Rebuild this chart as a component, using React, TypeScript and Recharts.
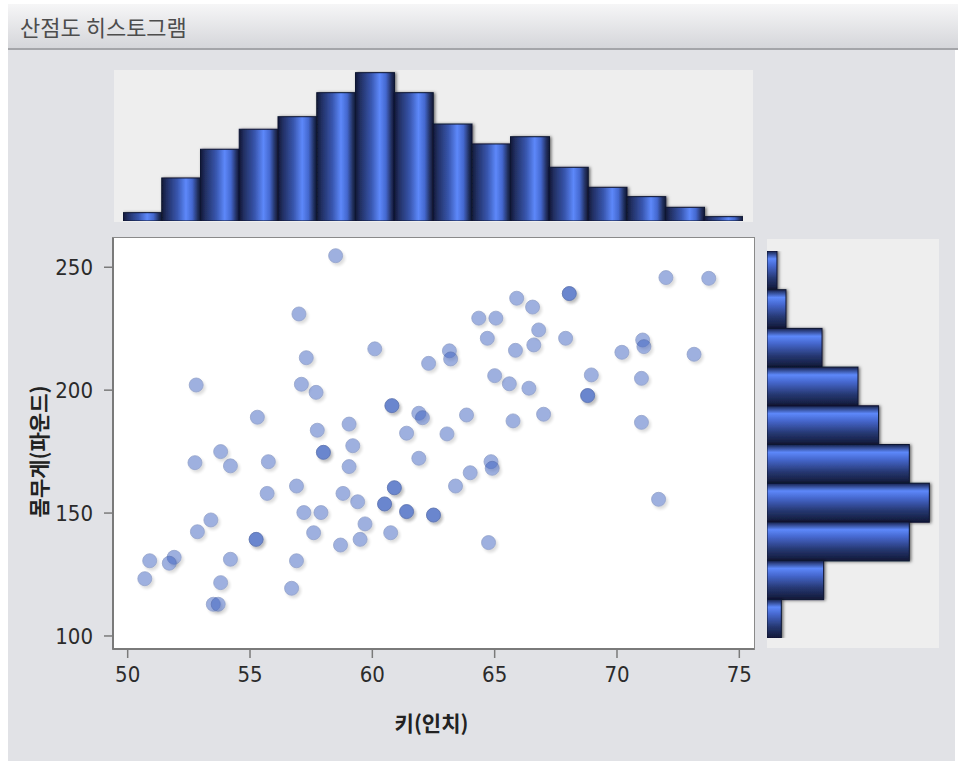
import React from 'react';
import { ScatterChart, Scatter, XAxis, YAxis, BarChart, Bar } from 'recharts';

const TITLE = '산점도 히스토그램';
const X_LABEL = '키(인치)';
const Y_LABEL = '몸무게(파운드)';

const xTicks = [50, 55, 60, 65, 70, 75];
const yTicks = [100, 150, 200, 250];

// scatter points (height in inches, weight in pounds); repeated pairs = overlapping points
const heights = [
  58.5, 57.0, 60.1, 62.3, 57.3, 52.8, 57.1, 57.7, 60.8, 60.8, 61.9, 62.05, 55.3, 59.05, 57.75, 61.4,
  59.2, 53.8, 58.0, 58.0, 52.75, 54.2, 55.75, 59.05, 61.9, 56.9, 55.7, 58.8, 59.4, 60.9, 60.9, 60.5,
  60.5, 61.4, 61.4, 57.2, 57.9, 53.4, 52.85, 55.25, 55.25, 57.6, 59.7, 59.5, 58.7, 60.75, 50.9, 51.9,
  51.7, 54.2, 56.9, 50.7, 53.8, 56.7, 53.5, 53.7, 72.0, 73.75, 68.05, 68.05, 65.9, 66.55, 64.35, 65.05,
  66.8, 64.7, 67.9, 66.6, 65.85, 63.15, 63.2, 71.05, 71.1, 70.2, 73.15, 65.0, 65.6, 66.4, 68.95, 71.0,
  68.8, 68.8, 63.85, 63.05, 65.75, 67.0, 71.0, 64.85, 64.9, 64.0, 63.4, 62.5, 62.5, 64.75, 71.7,
];
const weights = [
  254.7, 231.0, 216.8, 210.9, 213.2, 202.1, 202.4, 199.1, 193.7, 193.7, 190.6, 188.8, 189.0, 186.2, 183.7, 182.5,
  177.4, 175.0, 174.7, 174.7, 170.5, 169.2, 170.9, 168.9, 172.3, 161.0, 158.0, 158.0, 154.6, 160.3, 160.3, 153.7,
  153.7, 150.6, 150.6, 150.2, 150.2, 147.2, 142.4, 139.3, 139.3, 142.0, 145.6, 139.3, 137.0, 142.0, 130.6, 132.0,
  129.6, 131.2, 130.6, 123.3, 121.7, 119.4, 112.9, 112.9, 245.8, 245.5, 239.3, 239.3, 237.4, 233.8, 229.3, 229.3,
  224.5, 221.1, 221.1, 218.4, 216.2, 216.0, 212.7, 220.4, 217.7, 215.4, 214.6, 205.9, 202.6, 200.8, 206.2, 204.8,
  197.8, 197.8, 189.9, 182.2, 187.5, 190.2, 186.9, 170.9, 168.2, 166.4, 161.0, 149.2, 149.2, 138.0, 155.6,
];

// top histogram: height bins (percent)
const heightBins = ['49.8', '51.4', '53.0', '54.6', '56.2', '57.7', '59.3', '60.9', '62.5', '64.1', '65.7', '67.2', '68.8', '70.4', '72.0', '73.6'];
const heightPct = [0.75, 3.87, 6.45, 8.25, 9.38, 11.54, 13.34, 11.54, 8.72, 6.93, 7.58, 4.83, 3.03, 2.19, 1.23, 0.39];

// right histogram: weight bins, top to bottom (percent)
const weightBins = ['256.6', '240.9', '225.2', '209.4', '193.7', '178.0', '162.2', '146.5', '130.8', '115.0'];
const weightPct = [1.24, 2.36, 6.84, 11.31, 13.87, 17.69, 20.18, 17.69, 7.04, 1.78];

const points = heights.map((h, i) => ({ x: h, y: weights[i] }));
const topData = heightBins.map((bin, i) => ({ bin, pct: heightPct[i] }));
const rightData = weightBins.map((bin, i) => ({ bin, pct: weightPct[i] }));

const TICK_FONT = { fill: '#2b2b2b', fontSize: 22, fontFamily: '"DejaVu Sans Condensed", "DejaVu Sans", sans-serif' };
const LABEL_FONT = '"Noto Sans CJK KR", sans-serif';
const AXIS_GREY = '#7a7a7a';

const Defs = () => (
  <svg width={0} height={0} style={{ position: 'absolute' }}>
    <defs>
      <linearGradient id="vGrad" x1="0" y1="0" x2="1" y2="0">
        <stop offset="0" stopColor="#111836" />
        <stop offset="0.12" stopColor="#222f62" />
        <stop offset="0.4" stopColor="#3856ae" />
        <stop offset="0.62" stopColor="#5d88fa" />
        <stop offset="0.78" stopColor="#4468cf" />
        <stop offset="0.92" stopColor="#22305f" />
        <stop offset="1" stopColor="#111836" />
      </linearGradient>
      <linearGradient id="hGrad" x1="0" y1="0" x2="0" y2="1">
        <stop offset="0" stopColor="#16204a" />
        <stop offset="0.2" stopColor="#5d88fa" />
        <stop offset="0.38" stopColor="#4668cf" />
        <stop offset="0.7" stopColor="#263872" />
        <stop offset="1" stopColor="#111836" />
      </linearGradient>
      <filter id="barShadow" filterUnits="userSpaceOnUse" x="-100" y="-100" width="1200" height="1200">
        <feDropShadow dx="1.5" dy="0.5" stdDeviation="1.5" floodColor="#000" floodOpacity="0.55" />
      </filter>
      <filter id="ptShadow" filterUnits="userSpaceOnUse" x="-100" y="-100" width="1200" height="1200">
        <feDropShadow dx="2" dy="2.5" stdDeviation="1.6" floodColor="#000" floodOpacity="0.3" />
      </filter>
    </defs>
  </svg>
);

const VBar = (props: any) => {
  const { x, y, width, height } = props;
  if (!height || height <= 0) return null;
  return <rect x={x} y={y} width={width} height={height} fill="url(#vGrad)" stroke="#0f1632" strokeWidth={1} filter="url(#barShadow)" />;
};

const HBar = (props: any) => {
  const { x, y, width, height } = props;
  if (!width || width <= 0) return null;
  return <rect x={x} y={y} width={width} height={height} fill="url(#hGrad)" stroke="#0f1632" strokeWidth={1} filter="url(#barShadow)" />;
};

const Dot = (props: any) => {
  const { cx, cy } = props;
  return (
    <g opacity={0.47} filter="url(#ptShadow)">
      <circle cx={cx} cy={cy} r={7} fill="#3058bd" stroke="#1f3d8f" strokeWidth={0.8} />
    </g>
  );
};

const XLabel = (props: any) => {
  const vb = props.viewBox;
  return (
    <text x={vb.x + vb.width / 2 - 2} y={vb.y + 73} textAnchor="middle" dominantBaseline="central"
      fontFamily={LABEL_FONT} fontWeight="bold" fontSize={21} fill="#222">
      {X_LABEL}
    </text>
  );
};

const YLabel = (props: any) => {
  const vb = props.viewBox;
  const x = vb.x + 37.5;
  const y = vb.y + vb.height / 2 + 8;
  return (
    <text x={x} y={y} transform={`rotate(-90 ${x} ${y})`} textAnchor="middle" dominantBaseline="central"
      fontFamily={LABEL_FONT} fontWeight="bold" fontSize={21} fill="#222">
      {Y_LABEL}
    </text>
  );
};

export default function App() {
  return (
    <div style={{ position: 'absolute', left: 0, top: 0, width: 958, height: 761, background: '#fff', overflow: 'hidden' }}>
      <Defs />
      <div style={{ position: 'absolute', left: 8, top: 4, width: 947, height: 757, background: '#e1e2e6' }} />
      <div style={{
        position: 'absolute', left: 8, top: 4, width: 947, height: 44,
        background: 'linear-gradient(#f6f6f7, #d5d6da)', borderBottom: '2px solid #a4a5a9',
        fontFamily: LABEL_FONT, fontSize: 22, color: '#4d4d4d', lineHeight: '44px', paddingLeft: 12, boxSizing: 'content-box',
      }}>
        {TITLE}
      </div>

      {/* marginal panels and plot frame */}
      <div style={{ position: 'absolute', left: 114, top: 70, width: 639, height: 152, background: '#eeeeee' }} />
      <div style={{ position: 'absolute', left: 767, top: 239, width: 172, height: 409, background: '#eeeeee' }} />
      <div style={{ position: 'absolute', left: 112, top: 237, width: 641, height: 411, background: '#fff', border: '1px solid #8a8a8a' }} />

      <div style={{ position: 'absolute', left: 0, top: 230 }}>
        <ScatterChart width={760} height={531} margin={{ top: 8, right: 6, bottom: 12, left: 0 }}>
          <XAxis type="number" dataKey="x" domain={[49.4, 75.6]} ticks={xTicks} allowDataOverflow height={100}
            tickSize={9} tickMargin={8} tick={TICK_FONT}
            axisLine={{ stroke: AXIS_GREY, strokeWidth: 2 }} tickLine={{ stroke: AXIS_GREY, strokeWidth: 1.5 }}
            label={XLabel} />
          <YAxis type="number" dataKey="y" domain={[94.7, 261.9]} ticks={yTicks} allowDataOverflow width={113}
            tickSize={9} tickMargin={11} tick={TICK_FONT}
            axisLine={{ stroke: AXIS_GREY, strokeWidth: 2 }} tickLine={{ stroke: AXIS_GREY, strokeWidth: 1.5 }}
            label={YLabel} />
          <Scatter data={points} shape={Dot} isAnimationActive={false} />
        </ScatterChart>
      </div>

      <div style={{ position: 'absolute', left: 123, top: 70 }}>
        <BarChart width={620} height={151} data={topData} margin={{ top: 0, right: 0, bottom: 0, left: 0 }} barCategoryGap={0}>
          <XAxis dataKey="bin" hide />
          <YAxis hide domain={[0, 13.58]} allowDataOverflow />
          <Bar dataKey="pct" shape={VBar} isAnimationActive={false} />
        </BarChart>
      </div>

      <div style={{ position: 'absolute', left: 767, top: 251 }}>
        <BarChart layout="vertical" width={172} height={387} data={rightData} margin={{ top: 0, right: 0, bottom: 0, left: 0 }} barCategoryGap={0}>
          <XAxis type="number" hide domain={[0, 21.38]} allowDataOverflow />
          <YAxis type="category" dataKey="bin" hide />
          <Bar dataKey="pct" shape={HBar} isAnimationActive={false} />
        </BarChart>
      </div>
    </div>
  );
}
